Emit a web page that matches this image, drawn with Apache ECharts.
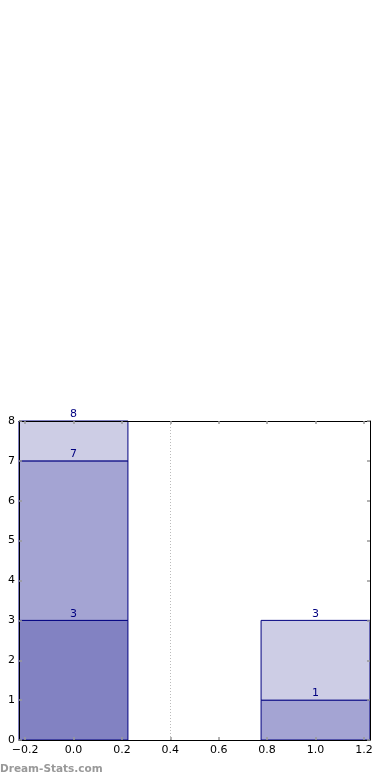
<!DOCTYPE html>
<html><head><meta charset="utf-8">
<script src="https://cdn.jsdelivr.net/npm/echarts@6/dist/echarts.min.js"></script>
<style>html,body{margin:0;padding:0;background:#fff}#c{width:390px;height:780px}</style>
</head><body><div id="c"></div>
<script>
const positions = [0, 1];
const barHalfWidth = 0.225;
const segDark = [3, 0];
const segMid = [4, 1];
const segLight = [1, 2];
const xTicks = [-0.2, 0, 0.2, 0.4, 0.6, 0.8, 1.0, 1.2];
const yTicks = [0, 1, 2, 3, 4, 5, 6, 7, 8];
const refLine = 0.4;

const segs = [segDark, segMid, segLight];
const colors = ['#8282c2', '#a4a4d3', '#cdcde5'];
const rows = [];
positions.forEach((p, i) => {
  let base = 0;
  segs.forEach((s, k) => {
    const v = s[i];
    if (v > 0) rows.push([p, base, base + v, k]);
    base += v;
  });
});

const chart = echarts.init(document.getElementById('c'), null, {renderer: 'canvas'});
const fmt = v => (Math.round(v * 10) / 10).toFixed(1).replace('-', '\u2212');
const font = {fontFamily: 'DejaVu Sans', fontSize: 11, color: '#000'};
const tickStyle = {show: true, inside: true, length: 3, lineStyle: {color: '#999', width: 1.5}};
const lineStyle = {show: true, onZero: false, lineStyle: {color: '#000', width: 1}};
chart.setOption({
  animation: false,
  grid: {left: 19, right: 20, top: 421, bottom: 40},
  xAxis: [{
    type: 'value', min: -barHalfWidth, max: 1 + barHalfWidth, position: 'bottom', z: 5,
    axisLine: lineStyle,
    axisTick: Object.assign({customValues: xTicks}, tickStyle),
    axisLabel: Object.assign({customValues: xTicks, formatter: fmt, margin: 5}, font),
    splitLine: {show: false}
  }, {
    type: 'value', min: -barHalfWidth, max: 1 + barHalfWidth, position: 'top', z: 5,
    axisLine: lineStyle,
    axisTick: Object.assign({customValues: xTicks}, tickStyle),
    axisLabel: {show: false}, splitLine: {show: false}
  }],
  yAxis: [{
    type: 'value', min: 0, max: 8, interval: 1, position: 'left', z: 5,
    axisLine: lineStyle,
    axisTick: tickStyle,
    axisLabel: Object.assign({margin: 4}, font),
    splitLine: {show: false}
  }, {
    type: 'value', min: 0, max: 8, interval: 1, position: 'right', z: 5,
    axisLine: lineStyle,
    axisTick: tickStyle,
    axisLabel: {show: false}, splitLine: {show: false}
  }],
  series: [{
    type: 'custom',
    data: rows,
    renderItem: (params, api) => {
      const x = api.value(0), y0 = api.value(1), y1 = api.value(2), k = api.value(3);
      const a = api.coord([x - barHalfWidth, y1]);
      const b = api.coord([x + barHalfWidth, y0]);
      return {
        type: 'group',
        children: [{
          type: 'rect',
          shape: {x: a[0], y: a[1], width: b[0] - a[0], height: b[1] - a[1]},
          style: {fill: colors[k], stroke: '#000080', lineWidth: 1}
        }, {
          type: 'text',
          style: {x: (a[0] + b[0]) / 2, y: a[1] - 1, text: String(y1), fill: '#000080',
            font: '11px "DejaVu Sans"', align: 'center', verticalAlign: 'bottom'},
          z2: 10
        }]
      };
    },
    markLine: {
      silent: true, symbol: 'none', label: {show: false},
      lineStyle: {color: '#bbb', type: [1, 2], width: 1},
      data: [{xAxis: refLine}]
    },
    z: 2
  }],
  graphic: [{
    type: 'text', left: 0, top: 764,
    style: {text: 'Dream-Stats.com', font: 'bold 10.5px "DejaVu Sans"', fill: '#999'}
  }]
});
</script></body></html>
